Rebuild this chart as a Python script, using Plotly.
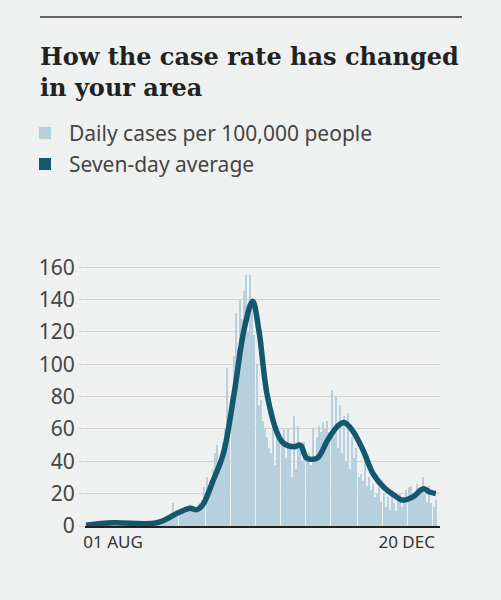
import plotly.graph_objects as go
import pandas as pd

start = pd.Timestamp("2020-07-19")
daily = [0,1,0,1,1,0,1,1,2,1,1,2,2,
 3,2,2,3,2,3,2,2,3,2,2,1,2,3,2,2,1,2,2,3,2,
 3,2,4,3,5,4,6,8,14,7,9,10,
 11,12,10,9,13,12,11,8,10,14,
 16,24,30,22,27,35,45,50,40,38,
 52,60,98,58,80,105,132,110,140,128,
 145,155,120,155,140,118,100,75,78,65,
 60,55,48,45,70,38,60,55,50,60,
 42,60,50,30,68,35,62,48,40,52,
 40,45,38,60,42,55,62,58,64,60,
 65,58,84,55,80,48,75,45,68,40,
 70,35,55,42,48,30,32,28,40,25,
 30,22,26,18,20,24,15,20,12,18,
 10,22,14,9,16,20,12,18,22,24,
 25,20,18,26,22,24,30,20,15,25,14,12,16]
dates = pd.date_range(start, periods=len(daily), freq="D")

avg_day = [0,13,34,44,50,53,56,61,66,71,76,80,83,87,92,95,100,103,106,111,116,121,124,128,133,138,143,148,152,157,162,165,168]
avg_val = [0.5,2,2,8,11,10,13,28,45,81,122,139,121,81,57,51,49,50,42,42,53,62,64,59,47,32,24,19,16,18,23,21,20]
avg_dates = [start + pd.Timedelta(days=d) for d in avg_day]

tick_vals = [pd.Timestamp("2020-08-01"), pd.Timestamp("2020-12-20")]
tick_text = ["01 AUG", "20 DEC"]

fig = go.Figure()
fig.add_bar(x=dates, y=daily, marker=dict(color="#b7d0dd", line=dict(width=0)), width=86400000*0.7, showlegend=False)
fig.add_scatter(x=avg_dates, y=avg_val, mode="lines", line=dict(color="#14586f", width=5.5, shape="spline"), showlegend=False)

H = 262.0
W = 355.0
def py(p):
    return (526 - p) / H
def px(p):
    return (p - 85) / W

fig.update_layout(
    width=501, height=600,
    margin=dict(l=85, r=61, t=264, b=74),
    paper_bgcolor="#eff1f0", plot_bgcolor="#eff1f0",
    bargap=0,
    font=dict(family="Noto Sans, sans-serif", color="#3f3f3f"),
    xaxis=dict(range=[start - pd.Timedelta(hours=12), start + pd.Timedelta(days=170)],
               tickvals=tick_vals, ticktext=tick_text, showgrid=False,
               showline=True, linecolor="#222", linewidth=1.5, ticks="",
               tickfont=dict(size=17, color="#333")),
    yaxis=dict(range=[0, 162], tickvals=[0,20,40,60,80,100,120,140,160],
               showgrid=True, gridcolor="#d2d2d2", gridwidth=1, zeroline=False,
               ticks="outside", ticklen=5, tickcolor="#d2d2d2",
               tickfont=dict(size=21, color="#444")),
    shapes=[
        dict(type="line", xref="paper", yref="paper", x0=px(40), x1=px(462), y0=py(17), y1=py(17), line=dict(color="#333", width=1.5)),
        dict(type="rect", xref="paper", yref="paper", x0=px(39), x1=px(51), y0=py(139), y1=py(127), fillcolor="#b7d0dd", line=dict(width=0)),
        dict(type="rect", xref="paper", yref="paper", x0=px(39), x1=px(51), y0=py(170), y1=py(158), fillcolor="#14586f", line=dict(width=0)),
    ],
    annotations=[
        dict(text="<b>How the case rate has changed<br>in your area</b>", xref="paper", yref="paper",
             x=px(38), y=py(40), xanchor="left", yanchor="top", align="left", showarrow=False,
             font=dict(family="DejaVu Serif, serif", size=24, color="#222")),
        dict(text="Daily cases per 100,000 people", xref="paper", yref="paper", x=px(67), y=py(133),
             xanchor="left", yanchor="middle", showarrow=False, font=dict(size=21, color="#444")),
        dict(text="Seven-day average", xref="paper", yref="paper", x=px(67), y=py(164),
             xanchor="left", yanchor="middle", showarrow=False, font=dict(size=21, color="#444")),
    ],
)
fig.write_html("out.html", config={"displayModeBar": False}, post_script="document.body.style.margin='0';")
